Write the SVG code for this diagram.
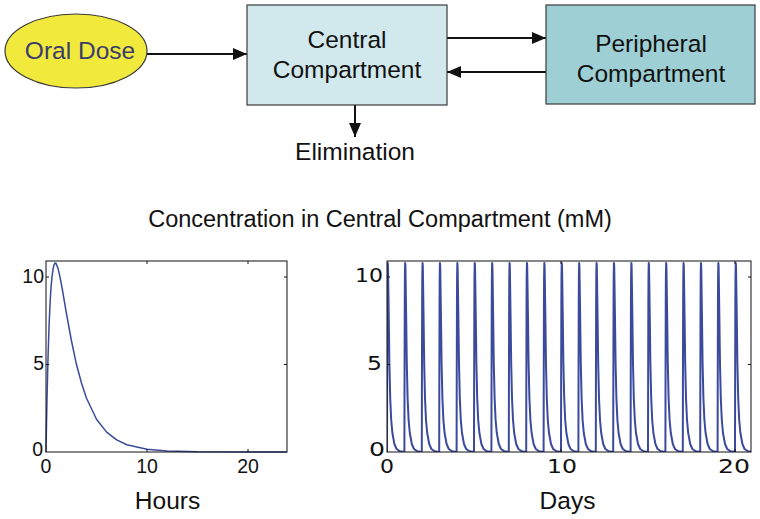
<svg xmlns="http://www.w3.org/2000/svg" xmlns:xlink="http://www.w3.org/1999/xlink" width="760" height="519" viewBox="0 0 760 519">
<style>
text{font-family:"Liberation Sans",Arial,sans-serif;fill:#111}
.big{font-size:24.5px;text-anchor:middle}
.tick{font-size:19.5px}
.tk2{font-family:"DejaVu Sans",sans-serif;font-size:19px}
.box{stroke:#3a3a3a;stroke-width:1.2}
.conn{stroke:#111;stroke-width:2;fill:none}
.ax{fill:none;stroke:#111;stroke-width:1}
.crv{fill:none;stroke:#3b4a9c;stroke-linejoin:round}
</style>
<defs>
<marker id="ah" viewBox="0 0 14 12" refX="14" refY="6" markerWidth="14" markerHeight="12" markerUnits="userSpaceOnUse" orient="auto">
<path d="M0,0 L14,6 L0,12 Z" fill="#111"/>
</marker>
<clipPath id="clipR"><rect x="387" y="261" width="364" height="191"/></clipPath>
<path id="pulse" d="M0,452 L0.1,399 L0.2,358 L0.35,304 L0.5,276 L0.75,263 L1,266 L1.3,285 L1.7,312 L2.4,364 L3.2,398 L4.2,420 L5.4,433 L7.4,444 L9.6,449 L13,451.3 L17.4,452"/>
</defs>

<g id="connectors">
<line class="conn" x1="147" y1="54" x2="247" y2="54" marker-end="url(#ah)"/>
<line class="conn" x1="447" y1="38" x2="546" y2="38" marker-end="url(#ah)"/>
<line class="conn" x1="546" y1="72" x2="447" y2="72" marker-end="url(#ah)"/>
<line class="conn" x1="355" y1="105" x2="355" y2="137" marker-end="url(#ah)"/>
</g>

<g id="oral-dose">
<ellipse cx="76" cy="51" rx="71" ry="37" fill="#f1e93c" class="box"/>
<text x="80" y="59" class="big" style="fill:#3a3d6e">Oral Dose</text>
</g>

<g id="central">
<rect x="247" y="5" width="200" height="100" fill="#d1e9ed" class="box"/>
<text x="347" y="48" class="big">Central</text>
<text x="347" y="78" class="big">Compartment</text>
</g>

<g id="peripheral">
<rect x="546" y="5" width="209" height="99" fill="#9ecfd4" class="box"/>
<text x="651" y="52" class="big">Peripheral</text>
<text x="651" y="82" class="big">Compartment</text>
</g>

<g id="elimination">
<text x="355" y="160" class="big">Elimination</text>
</g>

<g id="title">
<text x="380" y="227" style="font-size:23.5px;text-anchor:middle">Concentration in Central Compartment (mM)</text>
</g>

<g id="plot-hours">
<path class="crv" stroke-width="1.5" d="M46,452 L46.5,423.8 L47,399 L48,358.2 L49,327.2 L50,304.3 L51,287.6 L52.1,276.1 L53.1,268.7 L54.1,264.6 L55.1,263 L56.1,263.5 L58.1,268.7 L60.1,277.7 L62.2,288.6 L64.2,300.3 L66.2,312.2 L71.3,340 L76.3,363.8 L81.4,382.8 L86.4,398 L96.5,419.2 L106.6,432.1 L116.7,439.9 L126.8,444.7 L147,449.3 L167.2,451 L197.5,451.8 L287,452"/>
<rect class="ax" x="46" y="261" width="241" height="191"/>
<path class="ax" d="M46,277h3M46,364.5h3M287,277h-3M287,364.5h-3M147,452v-3M248,452v-3M147,261v3M248,261v3"/>
<text class="tick" x="44" y="283" text-anchor="end">10</text>
<text class="tick" x="44" y="370" text-anchor="end">5</text>
<text class="tick" x="43" y="456" text-anchor="end">0</text>
<text class="tick" x="46" y="473" text-anchor="middle">0</text>
<text class="tick" x="147" y="473" text-anchor="middle">10</text>
<text class="tick" x="248" y="473" text-anchor="middle">20</text>
<text class="big" x="167.5" y="509">Hours</text>
</g>

<g id="plot-days">
<g clip-path="url(#clipR)" class="crv" stroke-width="2">
<use xlink:href="#pulse" x="387"/>
<use xlink:href="#pulse" x="404.4"/>
<use xlink:href="#pulse" x="421.8"/>
<use xlink:href="#pulse" x="439.2"/>
<use xlink:href="#pulse" x="456.6"/>
<use xlink:href="#pulse" x="474"/>
<use xlink:href="#pulse" x="491.4"/>
<use xlink:href="#pulse" x="508.8"/>
<use xlink:href="#pulse" x="526.2"/>
<use xlink:href="#pulse" x="543.6"/>
<use xlink:href="#pulse" x="561"/>
<use xlink:href="#pulse" x="578.4"/>
<use xlink:href="#pulse" x="595.8"/>
<use xlink:href="#pulse" x="613.2"/>
<use xlink:href="#pulse" x="630.6"/>
<use xlink:href="#pulse" x="648"/>
<use xlink:href="#pulse" x="665.4"/>
<use xlink:href="#pulse" x="682.8"/>
<use xlink:href="#pulse" x="700.2"/>
<use xlink:href="#pulse" x="717.6"/>
<use xlink:href="#pulse" x="735"/>
</g>
<rect class="ax" x="387" y="261" width="364" height="191"/>
<path class="ax" d="M387,277h3M387,364.5h3M751,277h-3M751,364.5h-3M561,452v-3M735,452v-3M561,261v3M735,261v3"/>
<text class="tk2" x="355" y="282" textLength="28" lengthAdjust="spacingAndGlyphs">10</text>
<text class="tk2" x="367" y="370" textLength="15" lengthAdjust="spacingAndGlyphs">5</text>
<text class="tk2" x="369" y="456" textLength="16" lengthAdjust="spacingAndGlyphs">0</text>
<text class="tk2" x="380" y="473" textLength="14" lengthAdjust="spacingAndGlyphs">0</text>
<text class="tk2" x="547" y="473" textLength="30" lengthAdjust="spacingAndGlyphs">10</text>
<text class="tk2" x="718" y="473" textLength="32" lengthAdjust="spacingAndGlyphs">20</text>
<text class="big" x="567.5" y="509">Days</text>
</g>
</svg>
